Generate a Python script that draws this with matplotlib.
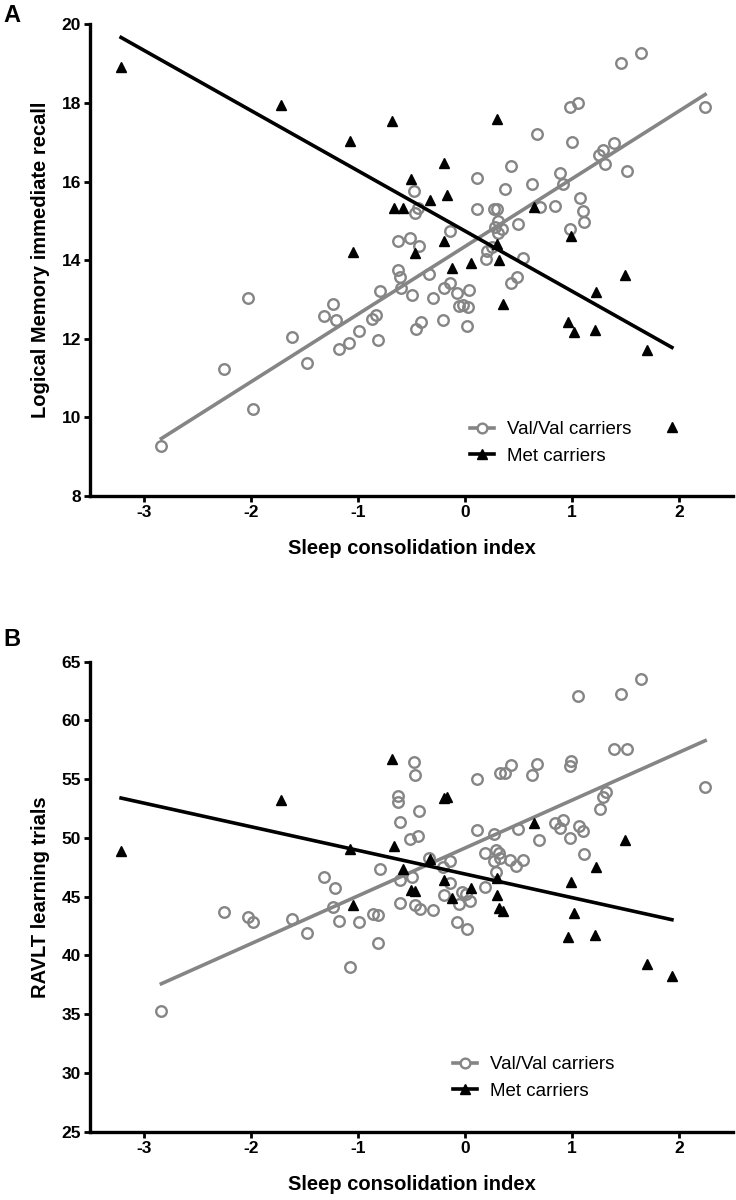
import numpy as np
import matplotlib
matplotlib.use('Agg')
import matplotlib.pyplot as plt
from matplotlib.lines import Line2D

plt.rcParams['font.family'] = ['Liberation Sans', 'DejaVu Sans']

# ---------------- data ----------------
met_x = [-3.21, -1.72, -1.07, -1.05, -0.68, -0.66, -0.575, -0.50, -0.47, -0.33,
         -0.20, -0.165, -0.20, -0.124, 0.056, 0.30, 0.295, 0.317, 0.357, 0.64,
         0.985, 0.963, 1.02, 1.22, 1.215, 1.49, 1.70, 1.93]
met_recall = [18.92, 17.94, 17.04, 14.22, 17.54, 15.33, 15.33, 16.06, 14.19, 15.54,
              16.47, 15.67, 14.50, 13.79, 13.92, 17.60, 14.41, 14.00, 12.89, 15.35,
              14.62, 12.44, 12.17, 13.18, 12.22, 13.62, 11.71, 9.75]
met_ravlt = [48.89, 53.27, 49.05, 44.28, 56.75, 49.30, 47.40, 45.58, 45.48, 48.2,
             53.40, 53.45, 46.40, 44.92, 45.72, 46.55, 45.15, 44.0, 43.8, 51.28,
             46.26, 41.58, 43.64, 47.53, 41.78, 49.80, 39.26, 38.24]

val_x_recall = [-2.834, -2.25, -2.03, -1.98, -1.615, -1.475, -1.32, -1.235, -1.207, -1.177,
                -1.08, -0.994, -0.87, -0.83, -0.808, -0.79, -0.63, -0.51, -0.43, -0.63,
                -0.606, -0.60, -0.497, -0.34, -0.295, -0.41, -0.462, -0.48, -0.435, -0.466,
                -0.14, -0.14, -0.198, -0.077, 0.04, -0.055, -0.016, 0.023, -0.208, 0.016,
                0.115, 0.115, 0.267, 0.30, 0.31, 0.28, 0.342, 0.31, 0.20, 0.249,
                0.196, 0.538, 0.497, 0.487, 0.43, 0.373, 0.428, 0.62, 0.67, 0.699,
                0.839, 0.885, 0.91, 0.979, 1.056, 1.0, 0.979, 1.072, 1.097, 1.109,
                1.25, 1.29, 1.31, 1.389, 1.51, 1.454, 1.637, 2.24]
val_recall = [9.27, 11.22, 13.05, 10.21, 12.04, 11.39, 12.58, 12.88, 12.47, 11.73,
              11.90, 12.20, 12.50, 12.61, 11.98, 13.22, 14.50, 14.56, 14.35, 13.76,
              13.58, 13.30, 13.12, 13.64, 13.05, 12.44, 12.25, 15.76, 15.32, 15.19,
              14.74, 13.43, 13.28, 13.17, 13.25, 12.84, 12.87, 12.80, 12.48, 12.33,
              16.09, 15.30, 15.30, 15.30, 15.01, 14.84, 14.79, 14.70, 14.24, 14.34,
              14.04, 14.05, 14.93, 13.56, 13.43, 15.80, 16.40, 15.93, 17.21, 15.35,
              15.38, 16.22, 15.95, 17.91, 18.01, 17.02, 14.80, 15.58, 15.24, 14.98,
              16.68, 16.80, 16.45, 16.99, 16.26, 19.01, 19.28, 17.91]

val_x_ravlt = [-2.834, -2.25, -2.03, -1.98, -1.615, -1.475, -1.32, -1.21, -1.235, -1.18,
               -1.078, -0.994, -0.86, -0.817, -0.81, -0.79, -0.63, -0.628, -0.606, -0.478,
               -0.466, -0.433, -0.513, -0.437, -0.338, -0.606, -0.497, -0.606, -0.466, -0.42,
               -0.30, -0.137, -0.204, -0.137, -0.20, -0.025, 0.005, 0.047, -0.053, -0.077,
               0.016, 0.115, 0.33, 0.373, 0.428, 0.62, 0.67, 0.979, 0.992, 0.115,
               0.27, 0.498, 0.839, 0.91, 0.885, 1.067, 1.097, 0.693, 0.979, 1.109,
               0.19, 0.292, 0.315, 0.267, 0.323, 0.423, 0.478, 0.54, 0.292, 0.186,
               1.056, 1.454, 1.637, 1.389, 1.513, 2.24, 1.314, 1.289, 1.258]
val_ravlt = [35.26, 43.68, 43.28, 42.86, 43.13, 41.94, 46.71, 45.74, 44.10, 42.92,
             38.98, 42.86, 43.49, 43.45, 41.07, 47.37, 53.55, 53.03, 51.39, 56.49,
             55.33, 52.30, 49.92, 50.15, 48.31, 46.43, 46.66, 44.45, 44.28, 43.95,
             43.85, 48.00, 47.56, 46.20, 45.13, 45.40, 45.20, 44.64, 44.39, 42.86,
             42.25, 55.05, 55.56, 55.52, 56.18, 55.36, 56.30, 56.15, 56.55, 50.65,
             50.32, 50.73, 51.25, 51.53, 50.88, 51.04, 50.60, 49.80, 50.00, 48.67,
             48.72, 49.00, 48.74, 48.06, 48.31, 48.10, 47.60, 48.13, 47.06, 45.80,
             62.07, 62.28, 63.52, 57.54, 57.60, 54.34, 53.91, 53.49, 52.50]

x_ticks = [-3, -2, -1, 0, 1, 2]
recall_ticks = [8, 10, 12, 14, 16, 18, 20]
ravlt_ticks = [25, 30, 35, 40, 45, 50, 55, 60, 65]
series_labels = ['Val/Val carriers', 'Met carriers']
x_label = 'Sleep consolidation index'
y_label_a = 'Logical Memory immediate recall'
y_label_b = 'RAVLT learning trials'

# ---------------- style ----------------
GRAY = '#858585'
W, H = 736, 1200
fig = plt.figure(figsize=(W / 100, H / 100), dpi=100)


def px_axes(l, r, t, b):
    return fig.add_axes([l / W, 1 - b / H, (r - l) / W, (b - t) / H])


def panel(ax, vx, vy, my, yticks, ylabel, leg_anchor):
    ax.set_xlim(-3.5, 2.5)
    ax.set_ylim(yticks[0], yticks[-1])
    ax.set_xticks(x_ticks)
    ax.set_yticks(yticks)
    ax.set_xticklabels([f'{t}' for t in x_ticks])
    for s in ('top', 'right'):
        ax.spines[s].set_visible(False)
    for s in ('left', 'bottom'):
        ax.spines[s].set_linewidth(2.4)
    ax.tick_params(direction='out', length=4.5, width=2.0, labelsize=12.5, pad=2)
    for lab in ax.get_xticklabels() + ax.get_yticklabels():
        lab.set_fontweight('bold')
    ax.set_xlabel(x_label, fontsize=14.5, fontweight='bold', labelpad=14)
    ax.set_ylabel(ylabel, fontsize=14.5, fontweight='bold', labelpad=8)

    vx = np.asarray(vx); vy = np.asarray(vy)
    mx = np.asarray(met_x); my = np.asarray(my)
    ax.plot(vx, vy, 'o', mfc='none', mec=GRAY, ms=7.6, mew=1.7, zorder=3, clip_on=False)
    k, b = np.polyfit(vx, vy, 1)
    xs = np.array([vx.min(), vx.max()])
    ax.plot(xs, k * xs + b, color=GRAY, lw=2.6, zorder=4)
    ax.plot(mx, my, '^', color='black', ms=7.6, zorder=5, clip_on=False)
    k2, b2 = np.polyfit(mx, my, 1)
    xs2 = np.array([mx.min(), mx.max()])
    ax.plot(xs2, k2 * xs2 + b2, color='black', lw=2.6, zorder=6)

    handles = [Line2D([], [], color=GRAY, lw=2.6, marker='o', mfc='white', mec=GRAY, ms=7, mew=1.7),
               Line2D([], [], color='black', lw=2.6, marker='^', ms=7)]
    ax.legend(handles, series_labels, loc='upper left', bbox_to_anchor=leg_anchor,
              frameon=False, fontsize=13.5, handlelength=1.3, handletextpad=0.65,
              labelspacing=0.5, borderpad=0, borderaxespad=0)


axA = px_axes(90, 733, 24.4, 496)
axB = px_axes(90, 733, 661.7, 1131.7)

panel(axA, val_x_recall, val_recall, met_recall, recall_ticks, y_label_a,
      ((470 - 90) / 643, (496 - 421) / 471.6))
panel(axB, val_x_ravlt, val_ravlt, met_ravlt, ravlt_ticks, y_label_b,
      ((453 - 90) / 643, (1131.7 - 1056) / 470))

fig.text(3 / W, 1 - 15 / H, 'A', fontsize=17, fontweight='bold', va='center', ha='left')
fig.text(3 / W, 1 - 640 / H, 'B', fontsize=17, fontweight='bold', va='center', ha='left')

fig.savefig('out.png', dpi=100)
